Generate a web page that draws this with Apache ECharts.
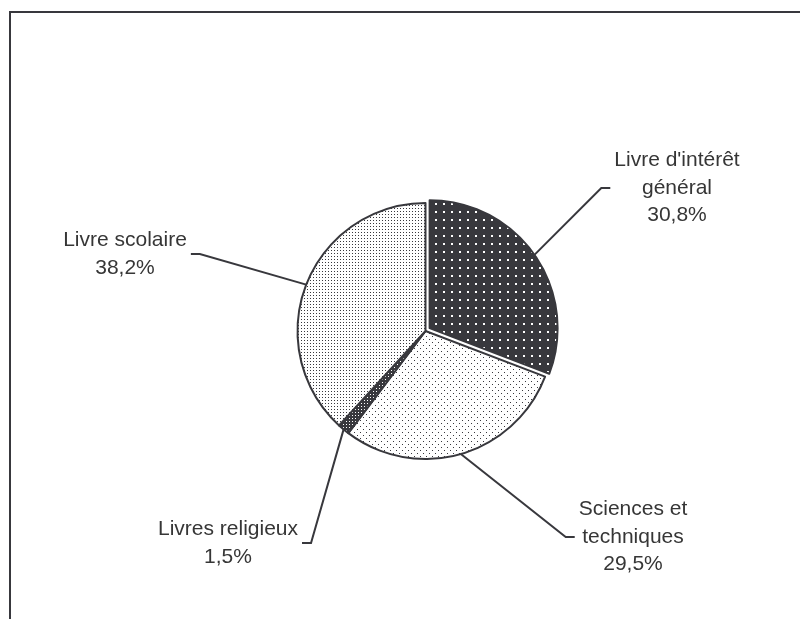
<!DOCTYPE html>
<html><head><meta charset="utf-8">
<script src="https://cdn.jsdelivr.net/npm/echarts@6/dist/echarts.min.js"></script>
<style>html,body{margin:0;padding:0;background:#fff}#c{width:800px;height:619px}</style>
</head><body><div id="c"></div>
<script>
const categories = ["Livre d'intérêt\ngénéral", "Sciences et\ntechniques", "Livres religieux", "Livre scolaire"];
const shares = [30.8, 29.5, 1.5, 38.2];
const explodedIndex = 0;

const INK = '#38383d';
const CENTER = [425.5, 331];
const RADIUS = 128;
const EXPLODE = 5;

function dotPattern(bg, fg, w, h, dots, s) {
  const c = document.createElement('canvas'); c.width = w; c.height = h;
  const g = c.getContext('2d'); g.fillStyle = bg; g.fillRect(0, 0, w, h);
  g.fillStyle = fg; dots.forEach(d => g.fillRect(d[0], d[1], s, s));
  return { image: c, repeat: 'repeat' };
}
const patterns = [
  dotPattern(INK, '#ffffff', 8, 8, [[3, 3]], 2),
  dotPattern('#ffffff', INK, 6, 6, [[0, 0], [3, 3]], 1),
  dotPattern(INK, '#ffffff', 3, 3, [[1, 1]], 1),
  dotPattern('#ffffff', INK, 3, 3, [[1, 1]], 1)
];
const anchors = [
  { x: 677, y: 188, side: -1 },
  { x: 633, y: 537, side: -1 },
  { x: 228, y: 543, side: 1 },
  { x: 125, y: 254, side: 1 }
];

// offset of the exploded slice along its bisector
const total = shares.reduce((a, b) => a + b, 0);
let before = 0;
for (let i = 0; i < explodedIndex; i++) before += shares[i];
const midA = (before + shares[explodedIndex] / 2) / total * 2 * Math.PI;
const explodedCenter = [CENTER[0] + EXPLODE * Math.sin(midA), CENTER[1] - EXPLODE * Math.cos(midA)];

const hidden = { color: 'rgba(0,0,0,0)', borderWidth: 0 };
const common = {
  type: 'pie', radius: RADIUS, startAngle: 90, clockwise: true,
  avoidLabelOverlap: false, emphasis: { disabled: true }, silent: true,
  itemStyle: { borderColor: INK, borderWidth: 2 }
};

const chart = echarts.init(document.getElementById('c'), null, { renderer: 'canvas' });
chart.setOption({
  animation: false,
  backgroundColor: '#ffffff',
  graphic: [{
    type: 'rect', shape: { x: 10, y: 12, width: 820, height: 640 },
    style: { fill: 'none', stroke: INK, lineWidth: 2 }, silent: true
  }],
  series: [Object.assign({}, common, {
    center: CENTER,
    data: categories.map((name, i) => ({
      name: name, value: shares[i],
      itemStyle: i === explodedIndex ? hidden : { color: patterns[i] }
    })),
    label: {
      show: true, position: 'outside',
      formatter: p => p.name + '\n' + p.value.toFixed(1).replace('.', ',') + '%',
      color: '#363636', fontFamily: 'Liberation Sans, Arial, sans-serif',
      fontSize: 21, lineHeight: 27.5, align: 'center'
    },
    labelLine: { show: true, length: 10, length2: 10, lineStyle: { color: INK, width: 2 } },
    labelLayout: function (params) {
      const a = anchors[params.dataIndex];
      const w = params.labelRect.width;
      const p0 = params.labelLinePoints ? params.labelLinePoints[0] : null;
      const endX = a.x + a.side * (w / 2 + 4);
      const elbowX = endX + a.side * 9;
      const out = { x: a.x, y: a.y, align: 'center', verticalAlign: 'middle' };
      if (p0) out.labelLinePoints = [p0, [elbowX, a.y], [endX, a.y]];
      return out;
    }
  }), Object.assign({}, common, {
    center: explodedCenter,
    label: { show: false }, labelLine: { show: false },
    data: categories.map((name, i) => ({
      name: name, value: shares[i],
      itemStyle: i === explodedIndex ? { color: patterns[i] } : hidden
    }))
  })]
});
</script></body></html>
